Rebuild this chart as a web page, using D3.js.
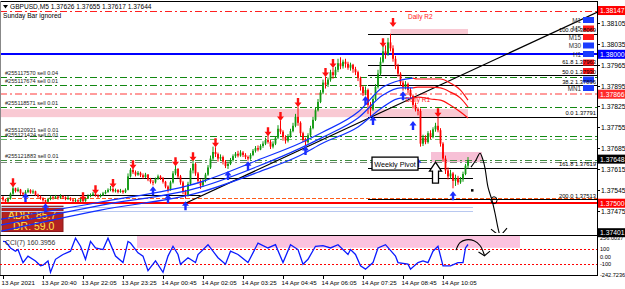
<!DOCTYPE html>
<html><head><meta charset="utf-8">
<script src="https://cdn.jsdelivr.net/npm/d3@7/dist/d3.min.js"></script>
<style>
html,body{margin:0;padding:0;background:#fff;}
svg{display:block;font-family:"Liberation Sans",Arial,Helvetica,sans-serif;}
</style></head><body>
<svg id="chart" width="625" height="289"></svg>
<script>
// ================= DATA (prices in points above 1.37000, 1 point = 0.00001) =================
const barOpen = [520,512,506,516,532,550,541,546,534,530,538,544,536,540,528,522,516,510,505,514,
520,516,522,518,524,520,514,518,512,508,510,506,512,507,516,524,528,532,526,522,
527,533,538,545,548,540,544,538,542,537,545,590,612,604,596,602,594,588,596,580,
572,570,582,590,584,572,556,545,570,600,615,590,570,540,528,565,610,632,600,575,
560,575,596,620,650,672,665,650,655,640,625,632,645,658,666,660,670,662,655,650,
662,676,685,680,692,700,712,706,690,700,720,750,740,722,710,725,742,760,790,770,
735,712,705,728,752,780,812,840,872,905,898,915,940,930,948,970,960,975,968,955,
965,950,940,920,890,870,880,830,815,850,890,935,975,1010,1000,1040,1020,985,960,935,
905,890,900,880,860,830,815,810,700,720,705,735,722,748,760,745,700,650,610,590,
600,575,585,570,580,598,626];
const barHigh = [524,515,520,536,558,552,553,548,538,544,550,547,546,542,532,526,520,512,518,526,
524,528,525,530,527,523,524,520,515,516,513,520,514,520,530,533,538,540,530,532,
538,544,550,558,552,549,547,548,545,550,600,618,624,610,608,606,600,602,598,585,
578,586,596,594,588,575,560,576,608,630,618,595,575,545,572,618,646,636,605,580,
582,602,628,660,690,688,670,664,660,645,640,652,664,672,676,678,675,668,660,668,
682,692,694,698,708,720,728,712,708,725,762,778,745,728,732,750,770,800,825,775,
740,720,735,760,790,820,850,880,915,925,922,948,955,958,985,990,982,985,975,972,
968,958,945,925,895,892,885,840,860,900,948,990,1035,1030,1055,1069,1030,995,968,940,
912,910,905,888,865,838,822,818,730,728,742,745,755,770,788,752,705,660,620,612,
605,596,592,588,606,632,655];
const barLow = [506,500,502,512,528,536,537,528,526,529,534,532,531,524,518,512,505,500,503,510,
512,514,512,515,514,510,511,508,503,504,502,504,503,505,514,520,524,522,518,519,
524,530,535,540,536,536,533,535,532,534,543,586,598,590,592,588,582,585,574,566,
560,566,578,578,566,550,536,542,566,594,584,562,530,515,522,560,600,592,566,548,
555,570,592,615,645,655,640,642,630,618,615,628,640,652,654,656,655,648,643,646,
658,670,674,678,686,695,700,682,684,695,715,732,710,700,704,720,738,755,760,725,
705,695,700,724,748,776,808,836,866,885,890,908,918,922,940,950,952,955,948,945,
938,930,910,878,860,862,800,791,810,845,885,928,970,985,995,1010,975,950,925,895,
878,882,870,850,818,808,795,690,692,698,700,715,718,740,738,690,640,598,580,582,
550,558,562,565,572,594,617];
const barClose = [512,506,516,532,550,541,546,534,530,538,544,536,540,528,522,516,510,505,514,520,
516,522,518,524,520,514,518,512,508,510,506,512,507,516,524,528,532,526,522,527,
533,538,545,548,540,544,538,542,537,545,590,612,604,596,602,594,588,596,580,572,
570,582,590,584,572,556,545,570,600,615,590,570,540,528,565,610,632,600,575,560,
575,596,620,650,672,665,650,655,640,625,632,645,658,666,660,670,662,655,650,662,
676,685,680,692,700,712,706,690,700,720,750,740,722,710,725,742,760,790,770,735,
712,705,728,752,780,812,840,872,905,898,915,940,930,948,970,960,975,968,955,965,
950,940,920,890,870,880,830,815,850,890,935,975,1010,1000,1040,1020,985,960,935,905,
890,900,880,860,830,815,810,700,720,705,735,722,748,760,745,700,650,610,590,600,
575,585,570,580,598,626,644];

const timeLabels = ["13 Apr 2021","13 Apr 20:40","13 Apr 22:05","13 Apr 23:25","14 Apr 00:45","14 Apr 02:05",
"14 Apr 03:25","14 Apr 04:45","14 Apr 06:05","14 Apr 07:25","14 Apr 08:45","14 Apr 10:05"];
const timeLabelBars = [0,16,32,48,64,80,96,112,128,144,160,176];

const priceTicks = [1.38105,1.38035,1.37965,1.37895,1.37825,1.37755,1.37685,1.37615,1.37545,1.37475];
const markedPrices = [1.38147,1.38000,1.37866,1.37648,1.37500,1.37401];
const markedColors = ["#ff0000","#0000ff","#ff2a2a","#000000","#ff0000","#000000"];

const fibNames = ["100.0","61.8","50.0","38.2","0.0","161.8","200.0"];
const fibPrices = [1.38069,1.37963,1.37930,1.37896,1.37791,1.37619,1.37513];
const fibStartBar = 146;

const orderNames = ["#255117570 sell 0.04","#255117674 sell 0.01","#255118571 sell 0.01",
"#255120921 sell 0.01","#255121424 sell 0.01","#255121883 sell 0.01"];
const orderPrices = [1.37924,1.37897,1.37823,1.37725,1.37715,1.37646];

const dailyR2 = 1.38147, dailyR1 = 1.37866, roundLevel = 1.38000, weeklyPivot = 1.37638;
const pivot13 = 1.37527, pivot14 = 1.37584, orangeLevel = 1.37517, redLevel = 1.37500;
const lowLevels = [1.37487,1.37473], bottomLevel = 1.37401;
const zoneLow = 1.37789, zoneHigh = 1.37816;
const topZone = [1.38068,1.38085];
const boxZone = [1.37638,1.37672];

const maBars   = [-2,39,79,102,119,128,142,152,159,164];
const maUpper  = [445,504,571,645,702,739,806,890,913,920];
const maMiddle = [425,493,554,624,685,722,786,863,887,887];
const maLower  = [404,477,537,604,661,702,756,823,853,853];
const projBars   = [164,166,171,175,179,183,186];
const projUpper  = [920,917,917,917,903,880,846];
const projMiddle = [887,890,890,887,873,853,823];
const projLower  = [853,856,850,846,829,806,786];

const trendBars = [73,150], trendPrices = [1.37500,1.37800];

const downFractalBars = [4,32,37,44,52,69,76,85,106,111,118,129,132,152,156,174];
const downFractalPts  = [554,507,530,551,614,624,641,688,725,776,823,924,954,1024,1092,789];
const upFractalBars = [9,17,60,66,73,90,98,121,145,148,160,164,166,180];
const upFractalPts  = [534,500,557,530,507,608,641,692,860,793,876,776,651,540];

const cciBars = [0,1,3,5,6,8,10,13,15,16,18,19,21,24,27,29,31,33,35,37,40,42,45,48,50,51,54,56,58,61,
64,66,68,70,71,74,77,78,82,86,89,91,94,98,102,106,109,112,115,118,120,122,125,128,131,134,138,139,141,143,
145,148,150,153,157,158,162,163,166,168,170,172,174,176,179,182,184,185,186];
const cciValues = [202,200,113,69,91,-87,2,-64,-131,-122,-64,-220,-42,24,69,247,136,-42,202,113,
91,247,2,-87,202,180,47,2,-198,-64,-220,2,136,24,-109,-20,-87,24,158,-20,-109,69,24,-87,180,113,158,-87,158,91,
-109,-42,136,144,113,158,24,91,24,-131,-176,-87,113,158,2,-87,-109,-176,-87,-64,-87,69,136,-131,-131,-87,-87,113,160.3956];
const cciTickValues = [256.0037,100,0,-100,-242.7236];
const cciTickTexts = ["256.0037","100","0.00","-100","-242.7236"];
const cciZone = [53.6,206.8,115];

const adrText = ["ADR: 85.7","DR: 59.0"];
const tfNames = ["M1","M5","M15","M30","H1","","","","MN1"];
const tfColors = ["#1a3cff","#ff1a1a","#ff1a1a","#1a3cff","#1a3cff","#ff1a1a","#ff1a1a","#1a3cff","#1a3cff"];

// hand-drawn annotations (bar index, points / CCI value)
const sketchMain = [[187.2,621],[189.2,645],[190.8,668],[192,645],[192.8,618],[194,554],[195.6,510],[196.8,467],[198,416],[198.8,389]];
const sketchHead = [[195.2,413],[198.8,389],[201.6,416]];
const sketchLoop = [196.4,510];
const sketchDot = [187.6,544];
const hollowArrow = [173,638];
const pivotBoxBar = 148;
const sketchCci = [[181.2,83],[182.8,186],[185.2,224],[188.4,211],[190.8,147],[192.4,32],[192.6,7]];
const sketchCciHead = [[190.2,58],[192.6,7],[194.8,70]];

// ================= DRAWING =================
const P = v => 1.37 + v/100000;
const svg = d3.select('#chart');
const x = d3.scaleLinear().domain([0,237.6]).range([3,597]);
const y = d3.scaleLinear().domain([1.374,1.381756]).range([233,2]);
const yc = d3.scaleLinear().domain([-242.7236,256.0037]).range([274,237.5]);
const r = v => Math.round(v)+0.5;

svg.append('rect').attr('width',625).attr('height',289).attr('fill','#fff');
const defs = svg.append('defs');
defs.append('clipPath').attr('id','clipMain').append('rect').attr('x',0).attr('y',2).attr('width',597).attr('height',231);
defs.append('clipPath').attr('id','clipCci').append('rect').attr('x',0).attr('y',236).attr('width',597).attr('height',39);
const gm = svg.append('g').attr('clip-path','url(#clipMain)');

function hline(g,price,b0,b1,stroke,w,dash){
  const yy = w%2===1 ? r(y(price)) : Math.round(y(price));
  const l = g.append('line').attr('x1',b0==null?0:x(b0)).attr('x2',b1==null?597:x(b1))
    .attr('y1',yy).attr('y2',yy).attr('stroke',stroke).attr('stroke-width',w);
  if(dash) l.attr('stroke-dasharray',dash);
  return l;
}
function band(g,p0,p1,b0,b1,fill){
  g.append('rect').attr('x',b0==null?0:x(b0)).attr('width',(b1==null?597:x(b1))-(b0==null?0:x(b0)))
   .attr('y',y(p1)).attr('height',y(p0)-y(p1)).attr('fill',fill);
}
const DD = "7,3,2,3";

// zones
band(gm,zoneLow,zoneHigh,-2,186,'#f9c9d3');
band(gm,topZone[0],topZone[1],155,186,'#f9c9d3');
band(gm,boxZone[0],boxZone[1],171.2,191.6,'#f7c0d6');

// ADR box
const adrG = gm.append('g');
adrG.append('rect').attr('x',x(-0.4)).attr('y',y(P(490))).attr('width',61).attr('height',y(P(405))-y(P(490)))
  .attr('fill','#b22222').attr('stroke','#8b1a1a');

// horizontal levels
hline(gm,dailyR2,null,null,'#ff2020',1,DD);
hline(gm,roundLevel,null,null,'#0000ff',2);
orderPrices.forEach((p,i)=>hline(gm,p,null,null,i===4?'#66bb66':(i===5?'#3d8f3d':'#118811'),1,DD));
hline(gm,dailyR1,null,null,'#ff9c9c',2,DD);
hline(gm,weeklyPivot,null,null,'#7a8a7a',1,DD);
hline(gm,pivot13,-2,79,'#000',1);
hline(gm,pivot14,50,188,'#000',1);
hline(gm,orangeLevel,null,null,'#ff5a1a',1,"4,2");
hline(gm,redLevel,null,null,'#ff0000',2);
lowLevels.forEach(p=>hline(gm,p,-2,188,'#b8c8f0',1));
hline(gm,bottomLevel,null,null,'#000',1,DD);

// fib levels
fibPrices.forEach(p=>hline(gm,p,fibStartBar,null,'#000',1));

// trendline (ray)
const slope = (trendPrices[1]-trendPrices[0])/(trendBars[1]-trendBars[0]);
gm.append('line').attr('x1',x(trendBars[0])).attr('y1',y(trendPrices[0]))
  .attr('x2',x(237.6)).attr('y2',y(trendPrices[0]+slope*(237.6-trendBars[0])))
  .attr('stroke','#000').attr('stroke-width',1.2);

// candles
const bars = barClose.map((c,i)=>({i,o:P(barOpen[i]),h:P(barHigh[i]),l:P(barLow[i]),c:P(c)}));
const cg = gm.append('g');
cg.selectAll('line.w').data(bars).join('line')
  .attr('x1',d=>x(d.i)).attr('x2',d=>x(d.i)).attr('y1',d=>y(d.h)).attr('y2',d=>y(d.l))
  .attr('stroke',d=>d.c>=d.o?'#119911':'#ff0000').attr('stroke-width',1);
cg.selectAll('rect.b').data(bars).join('rect')
  .attr('x',d=>x(d.i)-0.9).attr('width',1.8)
  .attr('y',d=>y(Math.max(d.o,d.c))).attr('height',d=>Math.max(1,Math.abs(y(d.o)-y(d.c))))
  .attr('fill',d=>d.c>=d.o?'#119911':'#ff0000');

// moving averages
const lineGen = d3.line().x(d=>x(d[0])).y(d=>y(P(d[1]))).curve(d3.curveMonotoneX);
[maUpper,maMiddle,maLower].forEach(arr=>{
  gm.append('path').attr('d',lineGen(maBars.map((b,i)=>[b,arr[i]]))).attr('fill','none').attr('stroke','#1030ff').attr('stroke-width',1.2);
});
[projUpper,projMiddle,projLower].forEach(arr=>{
  gm.append('path').attr('d',lineGen(projBars.map((b,i)=>[b,arr[i]]))).attr('fill','none').attr('stroke','#ff1010').attr('stroke-width',1.2);
});

// fractal arrows
const downPath = "M0,0 L-3.5,-4.5 L-1.2,-4.5 L-1.2,-9 L1.2,-9 L1.2,-4.5 L3.5,-4.5 Z";
const upPath = "M0,0 L-3.5,4.5 L-1.2,4.5 L-1.2,9 L1.2,9 L1.2,4.5 L3.5,4.5 Z";
gm.selectAll('path.dn').data(downFractalBars).join('path')
  .attr('d',downPath).attr('fill','#ff1010')
  .attr('transform',(b,i)=>`translate(${x(b)},${y(P(downFractalPts[i]))})`);
gm.selectAll('path.up').data(upFractalBars).join('path')
  .attr('d',upPath).attr('fill','#1a2cff')
  .attr('transform',(b,i)=>`translate(${x(b)},${y(P(upFractalPts[i]))})`);

// ADR text
adrG.append('text').attr('x',x(2)).attr('y',y(P(490))+13).attr('fill','#ffe84a').attr('font-size',10.5).text(adrText[0]);
adrG.append('text').attr('x',x(4)).attr('y',y(P(490))+24).attr('fill','#ffe84a').attr('font-size',10.5).text(adrText[1]);

// order labels
orderNames.forEach((t,i)=>{
  gm.append('text').attr('x',5).attr('y',y(orderPrices[i])-(i===3?4:2)).attr('font-size',5.6).attr('fill','#222').text(t);
});
// daily labels
gm.append('text').attr('x',x(162)).attr('y',y(dailyR2)+8).attr('font-size',6.5).attr('fill','#ff2020').text('Daily R2');
gm.append('text').attr('x',x(161)).attr('y',y(dailyR1)+8).attr('font-size',6.5).attr('fill','#ff2020').text('Daily R1');

// timeframe panel
const tfG = gm.append('g');
tfNames.forEach((t,i)=>{
  const yy = 20 + i*8.5;
  tfG.append('rect').attr('x',583).attr('y',yy-3).attr('width',11).attr('height',6).attr('fill',tfColors[i]);
  if(t) tfG.append('text').attr('x',581).attr('y',yy+2.5).attr('text-anchor','end').attr('font-size',6.3).attr('fill','#333').text(t);
});
// fib labels
fibNames.forEach((n,i)=>{
  gm.append('text').attr('x',596).attr('y',y(fibPrices[i])-1.5).attr('text-anchor','end')
    .attr('font-size',5.8).attr('fill','#000').text(n+' '+fibPrices[i].toFixed(5));
});

// weekly pivot box
const wpY = y(weeklyPivot);
gm.append('rect').attr('x',x(pivotBoxBar)-1).attr('y',wpY-5).attr('width',46).attr('height',13)
  .attr('fill','#fff').attr('stroke','#000').attr('stroke-width',1.3);
gm.append('text').attr('x',x(pivotBoxBar)+22).attr('y',wpY+4.5).attr('text-anchor','middle')
  .attr('font-size',7.2).attr('fill','#000').text('Weekly Pivot');

// hollow arrow
const ha = [x(hollowArrow[0]),y(P(hollowArrow[1]))];
gm.append('path').attr('d',`M${ha[0]},${ha[1]} l6,9 l-3,0 l0,12 l-6,0 l0,-12 l-3,0 Z`)
  .attr('fill','#fff').attr('stroke','#000').attr('stroke-width',1.3);

// sketches
const sk = d3.line().x(d=>x(d[0])).y(d=>y(P(d[1]))).curve(d3.curveCatmullRom);
gm.append('path').attr('d',sk(sketchMain)).attr('fill','none').attr('stroke','#000').attr('stroke-width',1.1);
gm.append('path').attr('d',d3.line().x(d=>x(d[0])).y(d=>y(P(d[1])))(sketchHead)).attr('fill','none').attr('stroke','#000').attr('stroke-width',1.1);
gm.append('ellipse').attr('cx',x(sketchLoop[0])).attr('cy',y(P(sketchLoop[1]))).attr('rx',3).attr('ry',3.5)
  .attr('fill','none').attr('stroke','#000').attr('stroke-width',1);
gm.append('rect').attr('x',x(sketchDot[0])-1).attr('y',y(P(sketchDot[1]))-1).attr('width',2.5).attr('height',2.5).attr('fill','#000');

// ===== right price axis =====
svg.append('line').attr('x1',597.5).attr('x2',597.5).attr('y1',1).attr('y2',276).attr('stroke','#000');
priceTicks.forEach(p=>{
  const yy = r(y(p));
  svg.append('line').attr('x1',597).attr('x2',600).attr('y1',yy).attr('y2',yy).attr('stroke','#000');
  svg.append('text').attr('x',601).attr('y',yy+2.5).attr('font-size',6.8).attr('fill','#000').text(p.toFixed(5));
});
markedPrices.forEach((p,i)=>{
  const yy = y(p);
  svg.append('rect').attr('x',598).attr('y',yy-4.5).attr('width',27).attr('height',9).attr('fill',markedColors[i]);
  svg.append('text').attr('x',600).attr('y',yy+2.5).attr('font-size',6.8).attr('fill','#fff').text(p.toFixed(5));
});

// frames
svg.append('line').attr('x1',0).attr('x2',597).attr('y1',1.5).attr('y2',1.5).attr('stroke','#000');
svg.append('line').attr('x1',0.5).attr('x2',0.5).attr('y1',1).attr('y2',276).attr('stroke','#888');
svg.append('line').attr('x1',0).attr('x2',597).attr('y1',235.5).attr('y2',235.5).attr('stroke','#000');
svg.append('line').attr('x1',0).attr('x2',597).attr('y1',275.5).attr('y2',275.5).attr('stroke','#000');

// ===== CCI window =====
const gc = svg.append('g').attr('clip-path','url(#clipCci)');
gc.append('rect').attr('x',x(cciZone[0])).attr('width',x(cciZone[1])-x(cciZone[0]))
  .attr('y',yc(256.0037)-2).attr('height',yc(cciZone[2])-yc(256.0037)+2).attr('fill','#fbc3df');
[100,-100].forEach(v=>gc.append('line').attr('x1',0).attr('x2',597).attr('y1',r(yc(v))).attr('y2',r(yc(v)))
  .attr('stroke','#ff0000').attr('stroke-dasharray','2,2'));
gc.append('path').attr('d',d3.line().x(d=>x(d[0])).y(d=>yc(d[1]))(cciBars.map((b,i)=>[b,cciValues[i]])))
  .attr('fill','none').attr('stroke','#0a1aff').attr('stroke-width',1.3);
const skc = d3.line().x(d=>x(d[0])).y(d=>yc(d[1])).curve(d3.curveCatmullRom);
gc.append('path').attr('d',skc(sketchCci)).attr('fill','none').attr('stroke','#000').attr('stroke-width',1.1);
gc.append('path').attr('d',d3.line().x(d=>x(d[0])).y(d=>yc(d[1]))(sketchCciHead)).attr('fill','none').attr('stroke','#000').attr('stroke-width',1.1);
svg.append('text').attr('x',5).attr('y',245).attr('font-size',6.8).attr('fill','#333').text('CCI(7) 160.3956');
cciTickValues.forEach((v,i)=>{
  svg.append('text').attr('x',600).attr('y',yc(v)+2.5).attr('font-size',5.6).attr('fill','#000').text(cciTickTexts[i]);
});

// ===== time axis =====
timeLabels.forEach((t,i)=>{
  const xx = r(x(timeLabelBars[i]));
  svg.append('line').attr('x1',xx).attr('x2',xx).attr('y1',276).attr('y2',279).attr('stroke','#000');
  svg.append('text').attr('x',xx-2).attr('y',285).attr('font-size',6.2).attr('fill','#000').text(t);
});

// ===== title =====
svg.append('path').attr('d','M3,5 L8,5 L5.5,8.5 Z').attr('fill','#000');
svg.append('text').attr('x',10).attr('y',8.5).attr('font-size',6.6).attr('fill','#000').text('GBPUSD,M5  1.37626 1.37655 1.37617 1.37644');
svg.append('text').attr('x',3).attr('y',18).attr('font-size',6.6).attr('fill','#000').text('Sunday Bar ignored');
</script>
</body></html>
